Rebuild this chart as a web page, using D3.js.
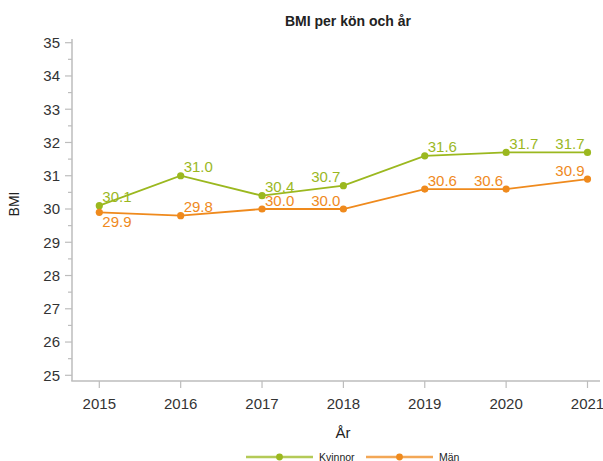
<!DOCTYPE html>
<html>
<head>
<meta charset="utf-8">
<script src="https://cdn.jsdelivr.net/npm/d3@7/dist/d3.min.js"></script>
<style>
  html, body { margin: 0; padding: 0; background: #fff; }
  svg { display: block; font-family: "Liberation Sans", Arial, sans-serif; }
</style>
</head>
<body>
<svg id="chart" width="603" height="461"></svg>
<script>
// Years on the x axis
const years = [2015, 2016, 2017, 2018, 2019, 2020, 2021];
// Mean BMI per year
const kvinnor = [30.1, 31.0, 30.4, 30.7, 31.6, 31.7, 31.7];
const man = [29.9, 29.8, 30.0, 30.0, 30.6, 30.6, 30.9];
// Y axis ticks
const yTicks = [25, 26, 27, 28, 29, 30, 31, 32, 33, 34, 35];

// Where each value label sits relative to its point
const kvinnorLabelSide = ["ur", "ur", "ur", "ul", "ur", "ur", "ul"];
const manLabelSide = ["dr", "ur", "ur", "ul", "ur", "ul", "ul"];

const green = "#9bb81f";
const orange = "#ef8a1d";
const axisGrey = "#bdbdbd";
const textCol = "#333";

const svg = d3.select("#chart");

const x = d3.scaleLinear().domain([2015, 2021]).range([99.3, 587.5]);
const y = d3.scaleLinear().domain([25, 35]).range([375.3, 42.7]);

// Axis lines
svg.append("line").attr("x1", 72).attr("x2", 72).attr("y1", 39).attr("y2", 381)
  .attr("stroke", axisGrey).attr("stroke-width", 1.5);
svg.append("line").attr("x1", 71.25).attr("x2", 600).attr("y1", 381).attr("y2", 381)
  .attr("stroke", axisGrey).attr("stroke-width", 1.5);

// Y ticks (major + minor halves)
const yMinor = d3.range(25.5, 35, 1);
svg.selectAll(".ymaj").data(yTicks).join("line")
  .attr("x1", 65).attr("x2", 72).attr("y1", d => y(d)).attr("y2", d => y(d))
  .attr("stroke", axisGrey).attr("stroke-width", 1.2);
svg.selectAll(".ymin").data(yMinor).join("line")
  .attr("x1", 68).attr("x2", 72).attr("y1", d => y(d)).attr("y2", d => y(d))
  .attr("stroke", axisGrey).attr("stroke-width", 1.2);
svg.selectAll(".ylab").data(yTicks).join("text")
  .attr("x", 60).attr("y", d => y(d)).attr("dy", "0.36em")
  .attr("text-anchor", "end").attr("font-size", 15).attr("fill", textCol)
  .text(d => d);

// X ticks
svg.selectAll(".xt").data(years).join("line")
  .attr("x1", d => x(d)).attr("x2", d => x(d)).attr("y1", 381).attr("y2", 388)
  .attr("stroke", axisGrey).attr("stroke-width", 1.2);
svg.selectAll(".xlab").data(years).join("text")
  .attr("x", d => x(d)).attr("y", 408.5)
  .attr("text-anchor", "middle").attr("font-size", 15).attr("fill", textCol)
  .text(d => d);

// Titles
svg.append("text").attr("x", 348).attr("y", 25.5).attr("text-anchor", "middle")
  .attr("font-size", 14).attr("font-weight", "bold").attr("fill", "#222")
  .text("BMI per kön och år");
svg.append("text").attr("x", 343).attr("y", 438).attr("text-anchor", "middle")
  .attr("font-size", 15).attr("fill", "#222").text("År");
svg.append("text").attr("transform", "translate(18.5,204) rotate(-90)")
  .attr("text-anchor", "middle").attr("font-size", 14).attr("fill", "#222").text("BMI");

// Series
const series = [
  { name: "Kvinnor", values: kvinnor, color: green, sides: kvinnorLabelSide },
  { name: "Män", values: man, color: orange, sides: manLabelSide }
];
const line = d3.line().x((d, i) => x(years[i])).y(d => y(d));

series.forEach(s => {
  svg.append("path").datum(s.values).attr("d", line)
    .attr("fill", "none").attr("stroke", s.color).attr("stroke-width", 1.8);
  svg.selectAll(null).data(s.values).join("circle")
    .attr("cx", (d, i) => x(years[i])).attr("cy", d => y(d)).attr("r", 3.6)
    .attr("fill", s.color);
  svg.selectAll(null).data(s.values).join("text")
    .attr("x", (d, i) => x(years[i]) + (s.sides[i].includes("l") ? -3 : 3))
    .attr("y", (d, i) => y(d) + (s.sides[i].startsWith("d") ? 14.5 : -3.5))
    .attr("text-anchor", (d, i) => s.sides[i].includes("l") ? "end" : "start")
    .attr("font-size", 15).attr("fill", s.color)
    .text(d => d.toFixed(1));
});

// Legend
const legend = [
  { name: "Kvinnor", color: green, x0: 246 },
  { name: "Män", color: orange, x0: 366 }
];
legend.forEach(l => {
  const g = svg.append("g");
  g.append("line").attr("x1", l.x0).attr("x2", l.x0 + 67).attr("y1", 457).attr("y2", 457)
    .attr("stroke", l.color).attr("stroke-width", 2.5).attr("stroke-opacity", 0.75);
  g.append("circle").attr("cx", l.x0 + 33.5).attr("cy", 457).attr("r", 3.4).attr("fill", l.color);
  g.append("text").attr("x", l.x0 + 73).attr("y", 460.5).attr("font-size", 10.5)
    .attr("fill", "#222").text(l.name);
});
</script>
</body>
</html>
